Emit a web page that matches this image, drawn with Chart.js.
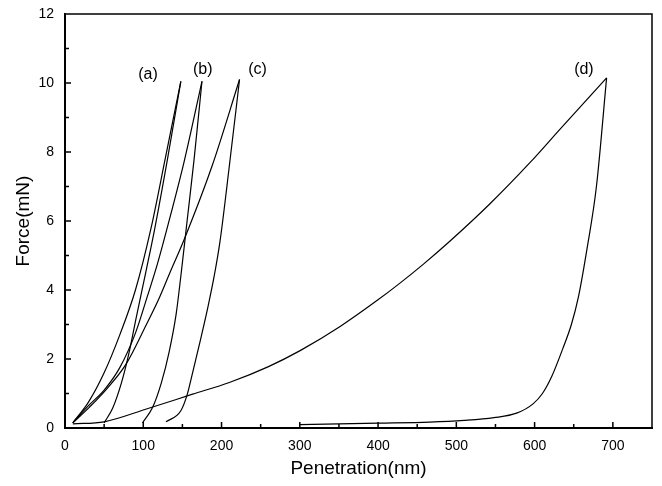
<!DOCTYPE html>
<html lang="en">
<head>
    <meta charset="UTF-8">
    <title>Force vs Penetration</title>
    <script src="https://cdn.jsdelivr.net/npm/chart.js"></script>
    <style>
        body { margin: 0; background: #fff; }
        #wrap { width: 662px; height: 486px; }
    </style>
</head>
<body>
    <div id="wrap"><canvas id="chartForce"></canvas></div>

    <script>
        // ------------------------------------------------
        // Curves (x = penetration nm, y = force mN)
        const aLoadX = [10, 30, 50, 70, 90, 110, 128, 148];
        const aLoadY = [0.15, 0.75, 1.6, 2.7, 4.0, 5.8, 7.8, 10.05];
        const aUnloadX = [50, 61, 72, 82, 91, 104, 114, 131, 148];
        const aUnloadY = [0.15, 0.58, 1.3, 2.2, 3.2, 4.6, 5.7, 7.8, 10.05];

        const bLoadX = [10, 30, 50, 70, 90, 105, 118, 130, 152, 175];
        const bLoadY = [0.15, 0.65, 1.1, 1.75, 2.75, 3.8, 4.75, 5.75, 7.7, 10.05];
        const bUnloadX = [99, 112, 123, 133, 142, 148, 156, 165, 175];
        const bUnloadY = [0.15, 0.6, 1.3, 2.2, 3.3, 4.4, 6.0, 7.8, 10.05];

        const cLoadX = [10, 31, 52, 78, 104, 121, 134, 152, 188, 223];
        const cLoadY = [0.15, 0.6, 1.1, 1.85, 3.0, 3.8, 4.5, 5.45, 7.6, 10.1];
        const cUnloadX = [129, 148, 156, 163, 173, 183, 191, 198, 210, 223];
        const cUnloadY = [0.18, 0.5, 0.96, 1.6, 2.55, 3.55, 4.45, 5.4, 7.6, 10.1];

        const dLoadX = [10, 50, 104, 163, 210, 260, 301, 352, 399, 428, 458, 492, 543, 594, 632, 692];
        const dLoadY = [0.12, 0.18, 0.55, 0.98, 1.32, 1.78, 2.25, 2.95, 3.7, 4.2, 4.75, 5.42, 6.5, 7.69, 8.65, 10.15];
        const dUnloadX = [300, 400, 466, 510, 548, 577, 598, 610, 622, 636, 647, 656, 667, 679, 692];
        const dUnloadY = [0.1, 0.14, 0.17, 0.22, 0.3, 0.43, 0.7, 1.0, 1.5, 2.3, 3.0, 3.8, 5.2, 7.0, 10.15];

        // curve labels
        const curveLabels = ['(a)', '(b)', '(c)', '(d)'];
        const curveLabelX = [106, 176, 246, 663];
        const curveLabelY = [10.25, 10.4, 10.4, 10.4];

        const xTicks = [0, 100, 200, 300, 400, 500, 600, 700];
        const yTicks = [0, 2, 4, 6, 8, 10, 12];

        const curves = [
            [aLoadX, aLoadY], [aUnloadX, aUnloadY],
            [bLoadX, bLoadY], [bUnloadX, bUnloadY],
            [cLoadX, cLoadY], [cUnloadX, cUnloadY],
            [dLoadX, dLoadY], [dUnloadX, dUnloadY]
        ];

        const fontFam = "'Liberation Sans', Arial, sans-serif";

        // frame, inward ticks and the (a)..(d) labels
        const framePlugin = {
            id: 'framePlugin',
            afterDraw(chart) {
                const ctx = chart.ctx;
                const a = chart.chartArea;
                const sx = chart.scales.x;
                const sy = chart.scales.y;
                ctx.save();
                ctx.strokeStyle = '#000';
                ctx.lineWidth = 1.5;
                ctx.beginPath();
                ctx.moveTo(a.left, a.top);
                ctx.lineTo(a.right, a.top);
                ctx.lineTo(a.right, a.bottom);
                ctx.stroke();

                ctx.beginPath();
                for (let v = 50; v <= 700; v += 50) {
                    const px = sx.getPixelForValue(v);
                    const len = v % 100 === 0 ? 6 : 4;
                    ctx.moveTo(px, a.bottom);
                    ctx.lineTo(px, a.bottom - len);
                }
                for (let v = 1; v <= 11; v += 1) {
                    const py = sy.getPixelForValue(v);
                    const len = v % 2 === 0 ? 6 : 4;
                    ctx.moveTo(a.left, py);
                    ctx.lineTo(a.left + len, py);
                }
                ctx.stroke();

                ctx.fillStyle = '#000';
                ctx.font = '16px ' + fontFam;
                ctx.textAlign = 'center';
                ctx.textBaseline = 'middle';
                curveLabels.forEach((t, i) => {
                    ctx.fillText(t, sx.getPixelForValue(curveLabelX[i]), sy.getPixelForValue(curveLabelY[i]));
                });
                ctx.restore();
            }
        };

        window.onload = () => {
            const ctx = document.getElementById('chartForce');
            new Chart(ctx, {
                type: 'line',
                data: {
                    datasets: curves.map(c => ({
                        data: c[0].map((x, i) => ({ x: x, y: c[1][i] })),
                        borderColor: '#000',
                        borderWidth: 1.2,
                        pointRadius: 0,
                        fill: false,
                        cubicInterpolationMode: 'monotone'
                    }))
                },
                options: {
                    responsive: true,
                    maintainAspectRatio: false,
                    animation: false,
                    layout: { padding: { top: 14, right: 10, left: 0, bottom: 0 } },
                    plugins: { legend: { display: false }, tooltip: { enabled: false } },
                    scales: {
                        x: {
                            type: 'linear',
                            min: 0,
                            max: 750,
                            afterBuildTicks: s => { s.ticks = xTicks.map(v => ({ value: v })); },
                            afterFit: s => { s.height = 58; s.paddingLeft = 0; s.paddingRight = 0; },
                            grid: { display: false, drawTicks: false },
                            border: { display: true, color: '#000', width: 2 },
                            ticks: { color: '#000', padding: 10, maxRotation: 0, font: { family: fontFam, size: 14 } },
                            title: {
                                display: true,
                                text: 'Penetration(nm)',
                                color: '#000',
                                padding: { top: 0, bottom: 6 },
                                font: { family: fontFam, size: 19 }
                            }
                        },
                        y: {
                            min: 0,
                            max: 12,
                            afterBuildTicks: s => { s.ticks = yTicks.map(v => ({ value: v })); },
                            afterFit: s => { s.width = 65; s.paddingTop = 0; s.paddingBottom = 0; },
                            grid: { display: false, drawTicks: false },
                            border: { display: true, color: '#000', width: 2 },
                            ticks: { color: '#000', padding: 11, font: { family: fontFam, size: 14 } },
                            title: {
                                display: true,
                                text: 'Force(mN)',
                                color: '#000',
                                padding: { top: 12, bottom: 0 },
                                font: { family: fontFam, size: 19 }
                            }
                        }
                    }
                },
                plugins: [framePlugin]
            });
        };
    </script>
</body>
</html>
